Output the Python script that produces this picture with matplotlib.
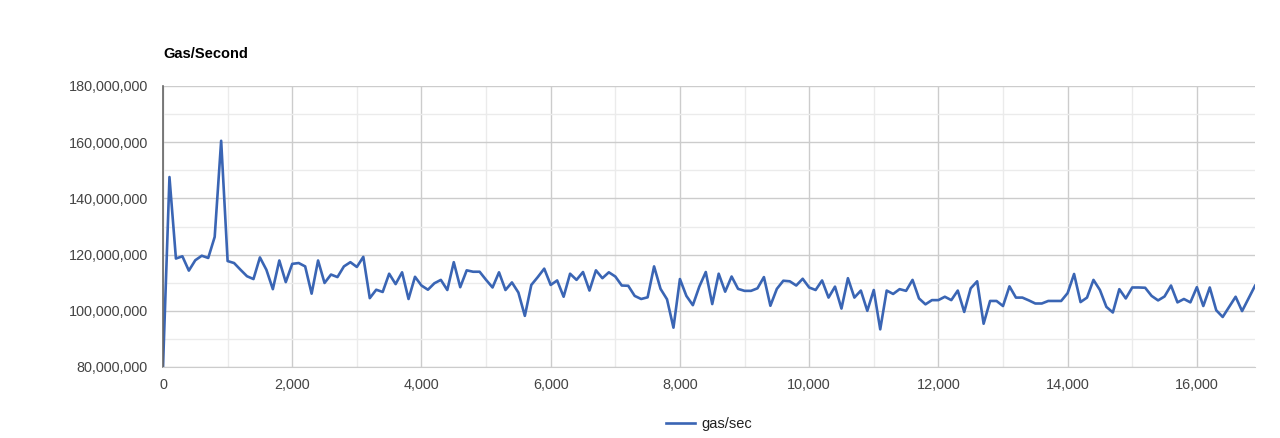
import matplotlib
matplotlib.use("Agg")
import matplotlib.pyplot as plt
from matplotlib.ticker import FuncFormatter, MultipleLocator

plt.rcParams['font.family'] = ['Liberation Sans', 'DejaVu Sans']

step = 100
gas_per_sec_millions = [
    80.0, 147.6, 118.6, 119.4, 114.3, 118.0, 119.6, 118.8, 126.3, 160.5,
    117.7, 117.0, 114.6, 112.3, 111.3, 119.0, 114.6, 107.7, 117.9, 110.2,
    116.7, 117.0, 115.8, 106.1, 117.9, 109.9, 112.9, 112.0, 115.8, 117.3,
    115.6, 119.2, 104.5, 107.5, 106.7, 113.2, 109.5, 113.7, 104.2, 112.1,
    109.0, 107.5, 109.8, 111.0, 107.4, 117.3, 108.4, 114.4, 113.9, 113.9,
    111.0, 108.3, 113.7, 107.4, 110.1, 106.5, 98.2, 109.2, 112.0, 115.0,
    109.2, 110.8, 105.0, 113.2, 111.0, 113.8, 107.2, 114.4, 111.6, 113.7,
    112.2, 109.0, 108.9, 105.3, 104.2, 104.8, 115.8, 107.8, 104.1, 94.0,
    111.3, 105.3, 102.0, 108.6, 113.8, 102.4, 113.2, 106.8, 112.2, 107.8,
    107.1, 107.1, 108.0, 112.0, 101.8, 107.8, 110.7, 110.5, 109.0, 111.4,
    108.3, 107.4, 110.8, 104.7, 108.6, 100.8, 111.6, 104.7, 107.2, 100.0,
    107.4, 93.4, 107.2, 106.0, 107.7, 107.1, 111.0, 104.4, 102.3, 103.8,
    103.8, 105.0, 103.8, 107.2, 99.6, 108.0, 110.5, 95.4, 103.5, 103.5,
    101.7, 108.7, 104.7, 104.7, 103.7, 102.6, 102.6, 103.5, 103.5, 103.5,
    106.3, 113.1, 103.1, 104.7, 111.0, 107.4, 101.4, 99.4, 107.7, 104.4,
    108.3, 108.3, 108.2, 105.3, 103.7, 105.1, 109.0, 103.0, 104.2, 103.0,
    108.4, 101.7, 108.3, 100.2, 97.8, 101.4, 105.0, 99.9, 104.4, 108.9,
]
x_values = [i * step for i in range(len(gas_per_sec_millions))]
y_values = [v * 1e6 for v in gas_per_sec_millions]

title = "Gas/Second"
series_label = "gas/sec"

W, H = 1280, 438
fig = plt.figure(figsize=(W / 100, H / 100), dpi=100)
L, R, T, B = 163, 1255, 86, 367
ax = fig.add_axes([L / W, 1 - B / H, (R - L) / W, (B - T) / H])

ax.plot(x_values, y_values, color='#3a65b4', linewidth=1.9, label=series_label,
        solid_joinstyle='round')

ax.set_xlim(0, x_values[-1])
ax.set_ylim(80e6, 180e6)
ax.xaxis.set_major_locator(MultipleLocator(2000))
ax.xaxis.set_minor_locator(MultipleLocator(1000))
ax.yaxis.set_major_locator(MultipleLocator(20e6))
ax.yaxis.set_minor_locator(MultipleLocator(10e6))
ax.xaxis.set_major_formatter(FuncFormatter(lambda v, p: f"{int(round(v)):,}"))
ax.yaxis.set_major_formatter(FuncFormatter(lambda v, p: f"{int(round(v)):,}"))

ax.grid(which='major', color='#cccccc', linewidth=1.0)
ax.grid(which='minor', color='#ebebeb', linewidth=1.0)
ax.set_axisbelow(True)
ax.tick_params(which='both', length=0)
ax.tick_params(axis='y', pad=11, labelsize=10.4, labelcolor='#444444')
ax.tick_params(axis='x', pad=8, labelsize=10.4, labelcolor='#444444')

for s in ['top', 'right']:
    ax.spines[s].set_visible(False)
ax.spines['bottom'].set_color('#cccccc')
ax.spines['left'].set_color('#666666')
ax.spines['left'].set_linewidth(1.2)

fig.text(L / W, 1 - 54 / H, title, fontsize=10.5, fontweight='bold',
         ha='left', va='center', color='#000000')

fig.legend(loc='center', bbox_to_anchor=(709 / W, 1 - 424 / H), frameon=False,
           fontsize=10.5, handlelength=2.0, handletextpad=0.4, labelcolor='#222222')

fig.savefig('out.png', dpi=100, facecolor='white')
